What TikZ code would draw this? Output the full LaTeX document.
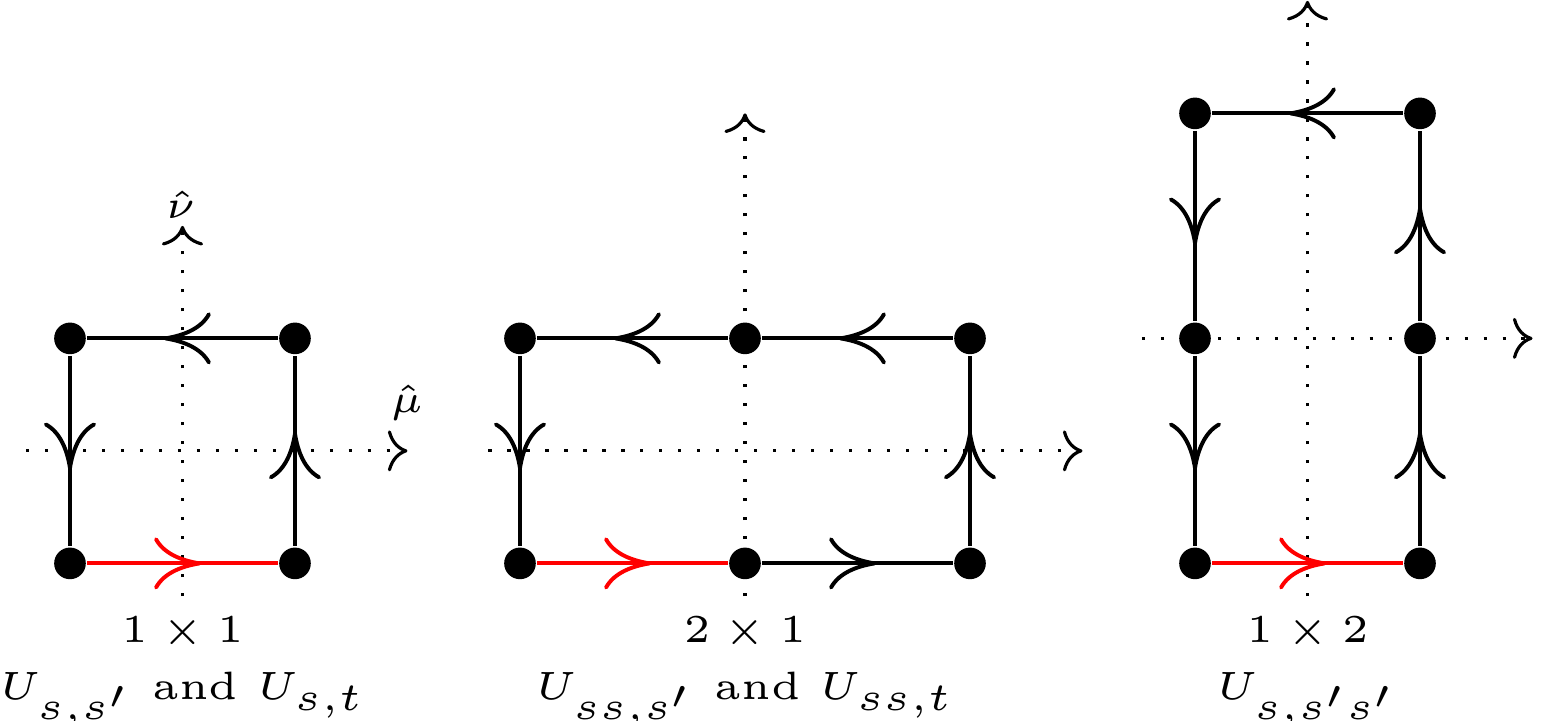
\documentclass[tikz,border=0pt]{standalone}
\usepackage{amsmath}
\usetikzlibrary{arrows.meta,decorations.markings}

\begin{document}
\begin{tikzpicture}[
        font=\tiny,
        site/.style={circle, fill=black, inner sep=0pt, minimum size=4pt},
        link/.style={line width=0.5pt, postaction={decorate}, decoration={markings,
            mark=at position 0.6 with {\arrow{Computer Modern Rightarrow[length=6pt,width=6.6pt]}}}},
        axis/.style={dotted, ->},
        redlink/.style={link, red}
    ]
        \useasboundingbox (-0.311,-0.7) rectangle (6.569,2.504);

        % Axes
        \coordinate (mu1s) at (-0.195,0.5); \coordinate (mu1e) at (1.5,0.5);
        \coordinate (nu1s) at (0.5,-0.145); \coordinate (nu1e) at (0.5,1.5);
        \coordinate (mu2s) at (1.86,0.5);   \coordinate (mu2e) at (4.5,0.5);
        \coordinate (nu2s) at (3,-0.145);   \coordinate (nu2e) at (3,2);
        \coordinate (mu3s) at (4.764,1);    \coordinate (mu3e) at (6.5,1);
        \coordinate (nu3s) at (5.5,-0.145); \coordinate (nu3e) at (5.5,2.5);
        \draw[axis] (mu1s) -- (mu1e);
        \draw[axis] (nu1s) -- (nu1e);
        \draw[axis] (mu2s) -- (mu2e);
        \draw[axis] (nu2s) -- (nu2e);
        \draw[axis] (mu3s) -- (mu3e);
        \draw[axis] (nu3s) -- (nu3e);
        \node (mu) at (1.498,0.713) {$\hat{\mu}$};
        \node (nu) at (0.493,1.593) {$\hat{\nu}$};

        % 1 x 1
        \node[site] (a00) at (0,0) {};
        \node[site] (a10) at (1,0) {};
        \node[site] (a11) at (1,1) {};
        \node[site] (a01) at (0,1) {};
        \draw[redlink] (a00) -- (a10);
        \draw[link] (a10) -- (a11);
        \draw[link] (a11) -- (a01);
        \draw[link] (a01) -- (a00);

        % 2 x 1
        \node[site] (b00) at (2,0) {};
        \node[site] (b10) at (3,0) {};
        \node[site] (b20) at (4,0) {};
        \node[site] (b21) at (4,1) {};
        \node[site] (b11) at (3,1) {};
        \node[site] (b01) at (2,1) {};
        \draw[redlink] (b00) -- (b10);
        \draw[link] (b10) -- (b20);
        \draw[link] (b20) -- (b21);
        \draw[link] (b21) -- (b11);
        \draw[link] (b11) -- (b01);
        \draw[link] (b01) -- (b00);

        % 1 x 2
        \node[site] (c00) at (5,0) {};
        \node[site] (c10) at (6,0) {};
        \node[site] (c11) at (6,1) {};
        \node[site] (c12) at (6,2) {};
        \node[site] (c02) at (5,2) {};
        \node[site] (c01) at (5,1) {};
        \draw[redlink] (c00) -- (c10);
        \draw[link] (c10) -- (c11);
        \draw[link] (c11) -- (c12);
        \draw[link] (c12) -- (c02);
        \draw[link] (c02) -- (c01);
        \draw[link] (c01) -- (c00);

        % Labels
        \node[anchor=base] (size1) at (0.5,-0.353) {$1 \times 1$};
        \node[anchor=base] (name1) at (0.5,-0.607) {$U_{s,s'}$ and $U_{s,t}$};
        \node[anchor=base] (size2) at (3,-0.353) {$2 \times 1$};
        \node[anchor=base] (name2) at (3,-0.607) {$U_{ss,s'}$ and $U_{ss,t}$};
        \node[anchor=base] (size3) at (5.5,-0.353) {$1 \times 2$};
        \node[anchor=base] (name3) at (5.5,-0.607) {$U_{s,s's'}$};
    \end{tikzpicture}
\end{document}
